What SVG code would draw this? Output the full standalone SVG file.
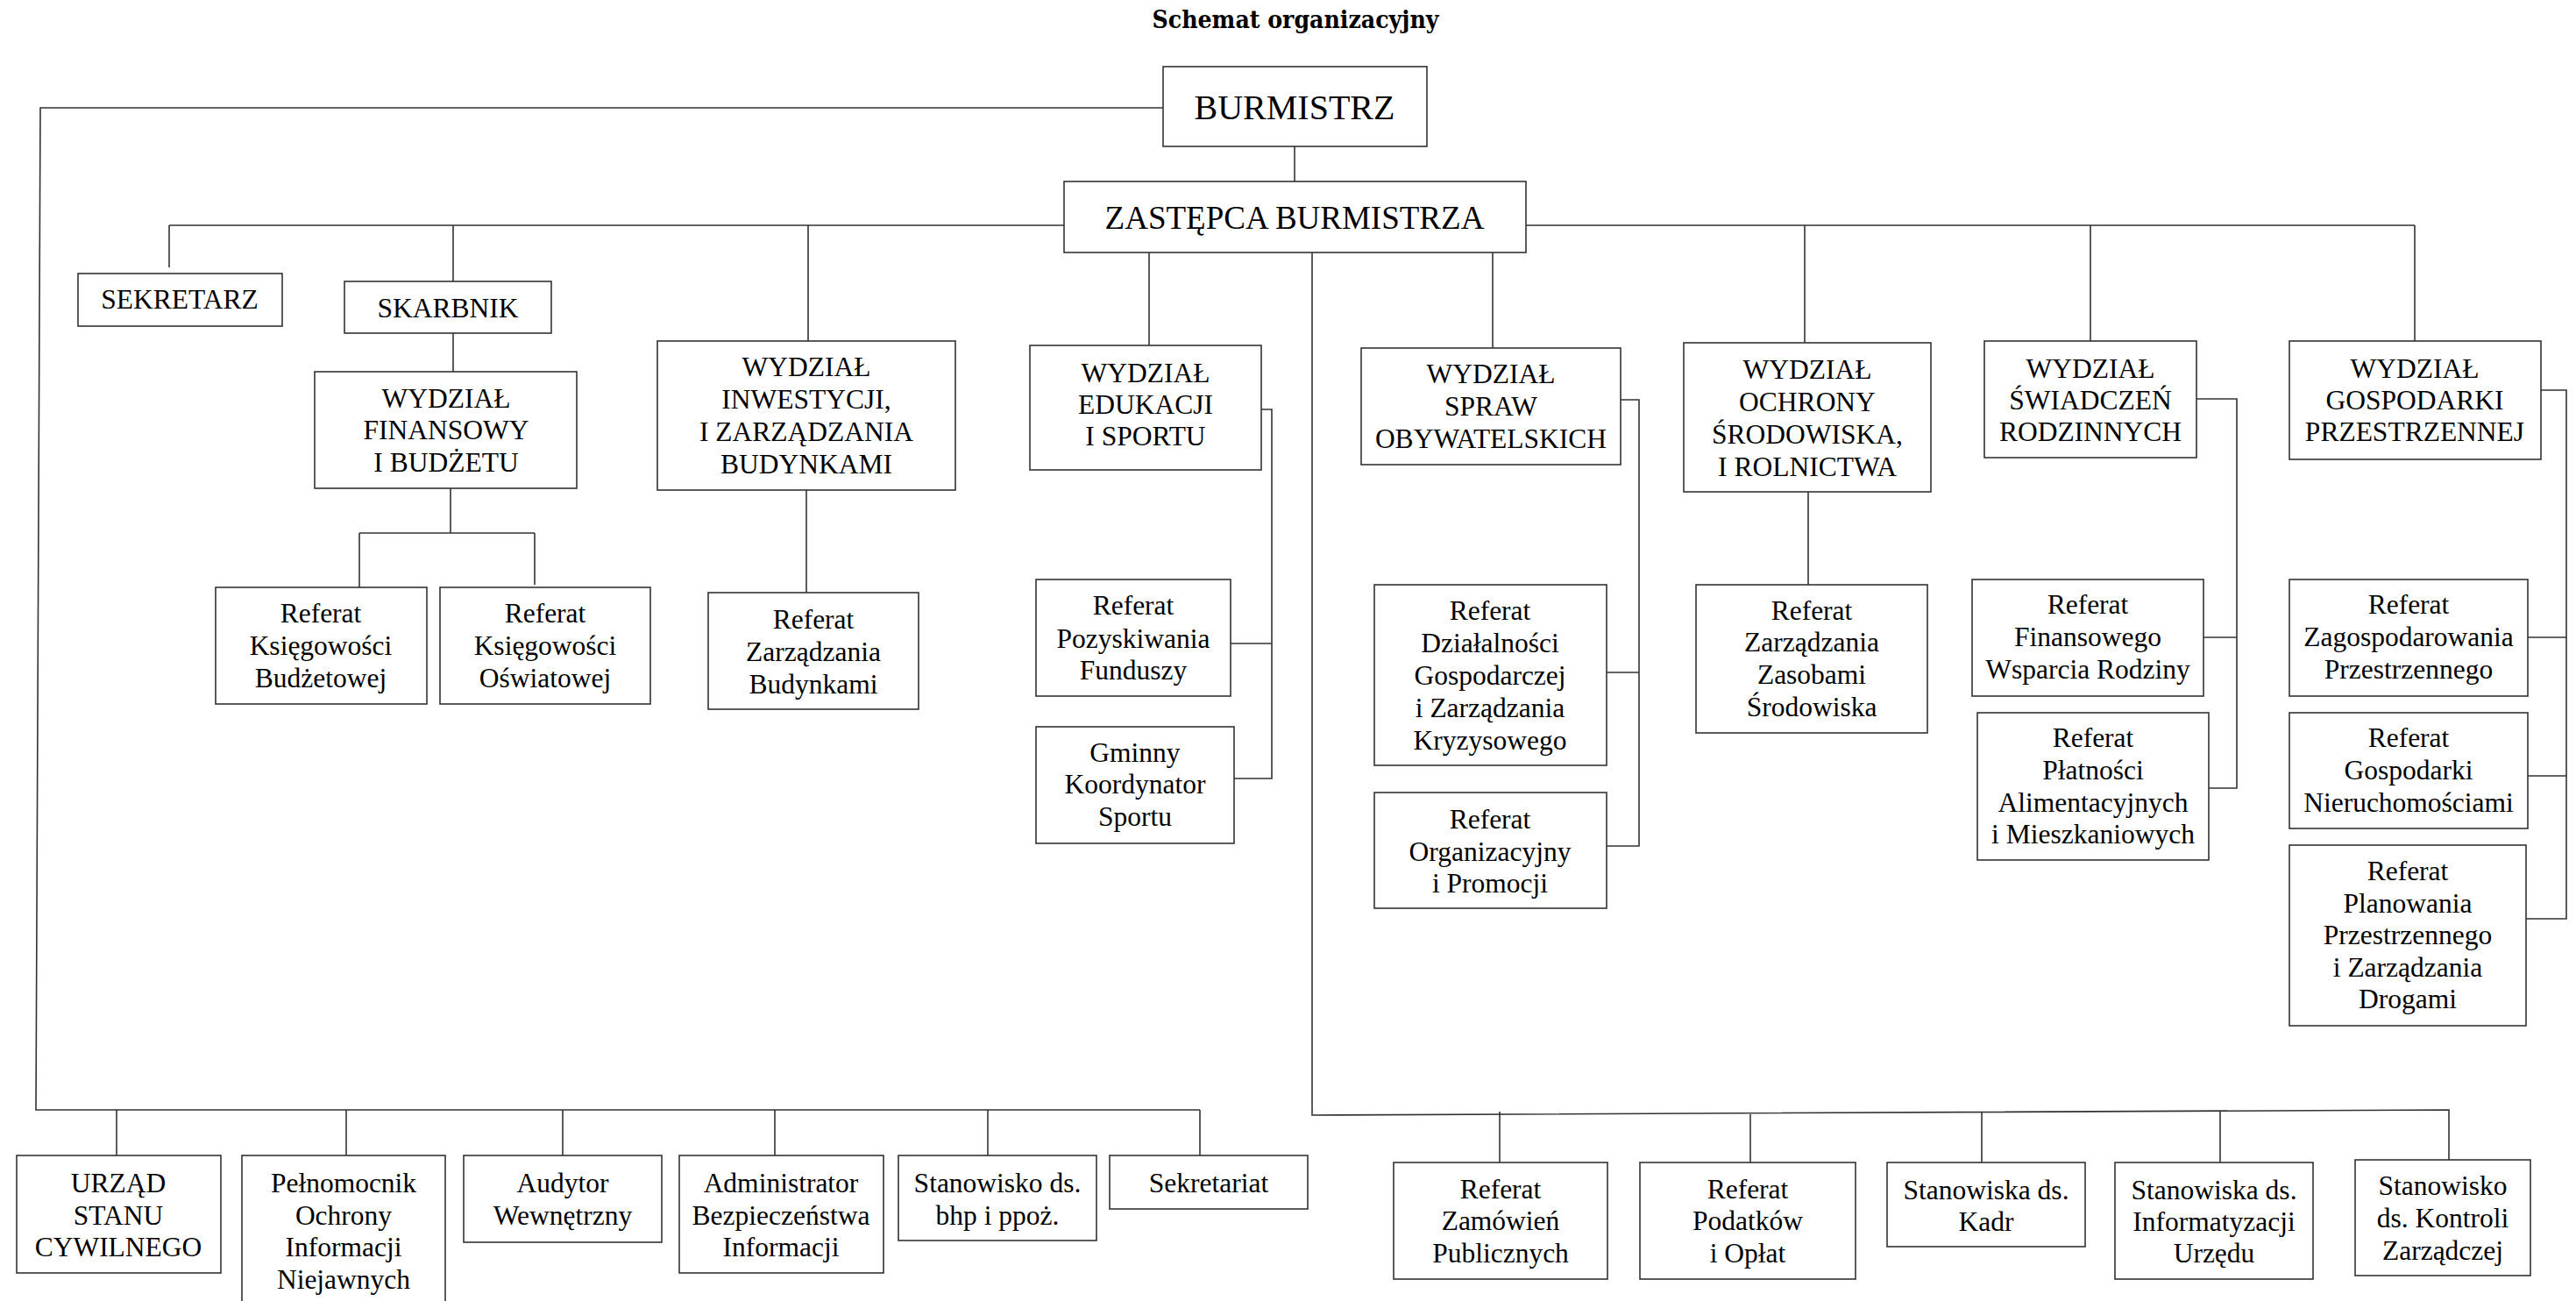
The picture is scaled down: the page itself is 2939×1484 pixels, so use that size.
<svg xmlns="http://www.w3.org/2000/svg" width="2939" height="1484" viewBox="0 0 2939 1484">
<style>
.b{fill:#fff;stroke:#333;stroke-width:1.6}
.t{font-family:"Liberation Serif","Times New Roman",serif;font-size:31.5px;fill:#000;text-anchor:middle}
.c{fill:none;stroke:#333;stroke-width:1.6}
.ti{font-family:"DejaVu Serif Condensed","DejaVu Serif",serif;font-weight:bold;font-size:28px;fill:#000;text-anchor:middle}
</style>
<rect width="2939" height="1484" fill="#fff"/>
<text class="ti" x="1478" y="32" textLength="327" lengthAdjust="spacingAndGlyphs">Schemat organizacyjny</text>
<g id="connectors">
<path class="c" d="M1477 167V207"/>
<path class="c" d="M1327 123H46L41 1266H1369"/>
<path class="c" d="M133 1266V1318M395 1266V1318M642 1266V1318M884 1266V1318M1127 1266V1318M1369 1266V1318"/>
<path class="c" d="M193 257H1214M1741 257H2755"/>
<path class="c" d="M193 257V305M517 257V321M922 257V389M2059 257V391M2385 257V389M2755 257V389"/>
<path class="c" d="M1311 288V394M1703 288V397"/>
<path class="c" d="M517 380V424"/>
<path class="c" d="M514 557V608M410 608H610M410 608V670M610 608V667"/>
<path class="c" d="M920 559V676"/>
<path class="c" d="M1439 467H1451V888H1408M1404 734H1451"/>
<path class="c" d="M1497 288V1272L2794 1266V1323"/>
<path class="c" d="M1711 1268V1326M1997 1271V1326M2261 1268V1326M2533 1267V1326"/>
<path class="c" d="M1849 456H1870V965H1833M1833 767H1870"/>
<path class="c" d="M2063 561V667"/>
<path class="c" d="M2506 455H2552V899H2520M2514 727H2552"/>
<path class="c" d="M2899 445H2928V1048H2882M2884 727H2928M2884 885H2928"/>
</g>
<g id="burmistrz"><rect class="b" x="1327" y="76" width="301" height="91"/><text class="t" x="1477" y="136" style="font-size:40px">BURMISTRZ</text></g>
<g id="zastepca"><rect class="b" x="1214" y="207" width="527" height="81"/><text class="t" x="1477" y="261" style="font-size:37px">ZASTĘPCA BURMISTRZA</text></g>
<g id="sekretarz"><rect class="b" x="89" y="312" width="233" height="60"/><text class="t" x="205" y="352">SEKRETARZ</text></g>
<g id="skarbnik"><rect class="b" x="393" y="321" width="236" height="59"/><text class="t" x="511" y="362">SKARBNIK</text></g>
<g id="wydz-fin"><rect class="b" x="359" y="424" width="299" height="133"/><text class="t" x="509"><tspan x="509" y="465">WYDZIAŁ</tspan><tspan x="509" y="501">FINANSOWY</tspan><tspan x="509" y="538">I BUDŻETU</tspan></text></g>
<g id="ref-ksieg-budz"><rect class="b" x="246" y="670" width="241" height="133"/><text class="t"><tspan x="366" y="710">Referat</tspan><tspan x="366" y="747">Księgowości</tspan><tspan x="366" y="784">Budżetowej</tspan></text></g>
<g id="ref-ksieg-osw"><rect class="b" x="502" y="670" width="240" height="133"/><text class="t"><tspan x="622" y="710">Referat</tspan><tspan x="622" y="747">Księgowości</tspan><tspan x="622" y="784">Oświatowej</tspan></text></g>
<g id="wydz-inw"><rect class="b" x="750" y="389" width="340" height="170"/><text class="t"><tspan x="920" y="429">WYDZIAŁ</tspan><tspan x="920" y="466">INWESTYCJI,</tspan><tspan x="920" y="503">I ZARZĄDZANIA</tspan><tspan x="920" y="540">BUDYNKAMI</tspan></text></g>
<g id="ref-bud"><rect class="b" x="808" y="676" width="240" height="133"/><text class="t"><tspan x="928" y="717">Referat</tspan><tspan x="928" y="754">Zarządzania</tspan><tspan x="928" y="791">Budynkami</tspan></text></g>
<g id="wydz-edu"><rect class="b" x="1175" y="394" width="264" height="142"/><text class="t"><tspan x="1307" y="436">WYDZIAŁ</tspan><tspan x="1307" y="472">EDUKACJI</tspan><tspan x="1307" y="508">I SPORTU</tspan></text></g>
<g id="ref-poz"><rect class="b" x="1182" y="661" width="222" height="133"/><text class="t"><tspan x="1293" y="701">Referat</tspan><tspan x="1293" y="739">Pozyskiwania</tspan><tspan x="1293" y="775">Funduszy</tspan></text></g>
<g id="gminny"><rect class="b" x="1182" y="829" width="226" height="133"/><text class="t"><tspan x="1295" y="869">Gminny</tspan><tspan x="1295" y="905">Koordynator</tspan><tspan x="1295" y="942">Sportu</tspan></text></g>
<g id="wydz-spraw"><rect class="b" x="1553" y="397" width="296" height="133"/><text class="t"><tspan x="1701" y="437">WYDZIAŁ</tspan><tspan x="1701" y="474">SPRAW</tspan><tspan x="1701" y="511">OBYWATELSKICH</tspan></text></g>
<g id="ref-dzial"><rect class="b" x="1568" y="667" width="265" height="206"/><text class="t"><tspan x="1700" y="707">Referat</tspan><tspan x="1700" y="744">Działalności</tspan><tspan x="1700" y="781">Gospodarczej</tspan><tspan x="1700" y="818">i Zarządzania</tspan><tspan x="1700" y="855">Kryzysowego</tspan></text></g>
<g id="ref-org"><rect class="b" x="1568" y="904" width="265" height="132"/><text class="t"><tspan x="1700" y="945">Referat</tspan><tspan x="1700" y="982">Organizacyjny</tspan><tspan x="1700" y="1018">i Promocji</tspan></text></g>
<g id="wydz-ochr"><rect class="b" x="1921" y="391" width="282" height="170"/><text class="t"><tspan x="2062" y="432">WYDZIAŁ</tspan><tspan x="2062" y="469">OCHRONY</tspan><tspan x="2062" y="506">ŚRODOWISKA,</tspan><tspan x="2062" y="543">I ROLNICTWA</tspan></text></g>
<g id="ref-zas"><rect class="b" x="1935" y="667" width="264" height="169"/><text class="t"><tspan x="2067" y="707">Referat</tspan><tspan x="2067" y="743">Zarządzania</tspan><tspan x="2067" y="780">Zasobami</tspan><tspan x="2067" y="817">Środowiska</tspan></text></g>
<g id="wydz-swiad"><rect class="b" x="2264" y="389" width="242" height="133"/><text class="t"><tspan x="2385" y="431">WYDZIAŁ</tspan><tspan x="2385" y="467">ŚWIADCZEŃ</tspan><tspan x="2385" y="503">RODZINNYCH</tspan></text></g>
<g id="ref-finw"><rect class="b" x="2250" y="661" width="264" height="133"/><text class="t"><tspan x="2382" y="700">Referat</tspan><tspan x="2382" y="737">Finansowego</tspan><tspan x="2382" y="774">Wsparcia Rodziny</tspan></text></g>
<g id="ref-plat"><rect class="b" x="2256" y="813" width="264" height="168"/><text class="t"><tspan x="2388" y="852">Referat</tspan><tspan x="2388" y="889">Płatności</tspan><tspan x="2388" y="926">Alimentacyjnych</tspan><tspan x="2388" y="962">i Mieszkaniowych</tspan></text></g>
<g id="wydz-gosp"><rect class="b" x="2612" y="389" width="287" height="135"/><text class="t"><tspan x="2755" y="431">WYDZIAŁ</tspan><tspan x="2755" y="467">GOSPODARKI</tspan><tspan x="2755" y="503">PRZESTRZENNEJ</tspan></text></g>
<g id="ref-zag"><rect class="b" x="2612" y="661" width="272" height="133"/><text class="t"><tspan x="2748" y="700">Referat</tspan><tspan x="2748" y="737">Zagospodarowania</tspan><tspan x="2748" y="774">Przestrzennego</tspan></text></g>
<g id="ref-nier"><rect class="b" x="2612" y="813" width="272" height="132"/><text class="t"><tspan x="2748" y="852">Referat</tspan><tspan x="2748" y="889">Gospodarki</tspan><tspan x="2748" y="926">Nieruchomościami</tspan></text></g>
<g id="ref-plan"><rect class="b" x="2612" y="964" width="270" height="206"/><text class="t"><tspan x="2747" y="1004">Referat</tspan><tspan x="2747" y="1041">Planowania</tspan><tspan x="2747" y="1077">Przestrzennego</tspan><tspan x="2747" y="1114">i Zarządzania</tspan><tspan x="2747" y="1150">Drogami</tspan></text></g>
<g id="usc"><rect class="b" x="19" y="1318" width="233" height="134"/><text class="t"><tspan x="135" y="1360">URZĄD</tspan><tspan x="135" y="1397">STANU</tspan><tspan x="135" y="1433">CYWILNEGO</tspan></text></g>
<g id="pelnomocnik"><rect class="b" x="276" y="1318" width="232" height="190"/><text class="t"><tspan x="392" y="1360">Pełnomocnik</tspan><tspan x="392" y="1397">Ochrony</tspan><tspan x="392" y="1433">Informacji</tspan><tspan x="392" y="1470">Niejawnych</tspan></text></g>
<g id="audytor"><rect class="b" x="529" y="1318" width="226" height="99"/><text class="t"><tspan x="642" y="1360">Audytor</tspan><tspan x="642" y="1397">Wewnętrzny</tspan></text></g>
<g id="abi"><rect class="b" x="775" y="1318" width="233" height="134"/><text class="t"><tspan x="891" y="1360">Administrator</tspan><tspan x="891" y="1397">Bezpieczeństwa</tspan><tspan x="891" y="1433">Informacji</tspan></text></g>
<g id="bhp"><rect class="b" x="1025" y="1318" width="226" height="97"/><text class="t"><tspan x="1138" y="1360">Stanowisko ds.</tspan><tspan x="1138" y="1397">bhp i ppoż.</tspan></text></g>
<g id="sekretariat"><rect class="b" x="1266" y="1318" width="226" height="61"/><text class="t" x="1379" y="1360">Sekretariat</text></g>
<g id="ref-zam"><rect class="b" x="1590" y="1326" width="244" height="133"/><text class="t"><tspan x="1712" y="1367">Referat</tspan><tspan x="1712" y="1403">Zamówień</tspan><tspan x="1712" y="1440">Publicznych</tspan></text></g>
<g id="ref-pod"><rect class="b" x="1871" y="1326" width="246" height="133"/><text class="t"><tspan x="1994" y="1367">Referat</tspan><tspan x="1994" y="1403">Podatków</tspan><tspan x="1994" y="1440">i Opłat</tspan></text></g>
<g id="kadry"><rect class="b" x="2153" y="1326" width="226" height="96"/><text class="t"><tspan x="2266" y="1368">Stanowiska ds.</tspan><tspan x="2266" y="1404">Kadr</tspan></text></g>
<g id="informatyzacja"><rect class="b" x="2413" y="1326" width="226" height="133"/><text class="t"><tspan x="2526" y="1368">Stanowiska ds.</tspan><tspan x="2526" y="1404">Informatyzacji</tspan><tspan x="2526" y="1440">Urzędu</tspan></text></g>
<g id="kontrola"><rect class="b" x="2687" y="1323" width="200" height="132"/><text class="t"><tspan x="2787" y="1363">Stanowisko</tspan><tspan x="2787" y="1400">ds. Kontroli</tspan><tspan x="2787" y="1437">Zarządczej</tspan></text></g>
</svg>
